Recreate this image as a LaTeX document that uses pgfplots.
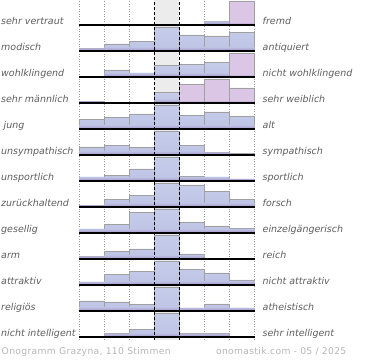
\documentclass[border=0pt]{standalone}
\usepackage{pgfplots}
\pgfplotsset{compat=1.18}
\usepackage{pgfplotstable}
\usepackage{fontspec}
\setmainfont{DejaVu Sans}[ItalicFont={DejaVu Sans Oblique}]
\newfontfamily\footfont{DejaVu Sans}[LetterSpace=3.5]
\definecolor{lbl}{HTML}{5E5E5E}
\definecolor{foot}{HTML}{B6B6B6}
\definecolor{band}{HTML}{ECECEC}
\definecolor{bt}{HTML}{C6CDEA}
\definecolor{bm}{HTML}{BEC3E5}
\definecolor{bb}{HTML}{A292C4}
\definecolor{pt}{HTML}{DCC6E6}
\definecolor{edge}{HTML}{A0A0A0}
\pgfdeclareverticalshading{pinkshade}{100bp}{color(0bp)=(bb); color(25bp)=(bb); color(31bp)=(pt); color(75bp)=(pt); color(100bp)=(pt)}

\pgfplotstableread{
x r1 r2 r3 r4 r5 r6 r7 r8 r9 r10 r11 r12 r13
0.5 0 2.7 0 1.7 9.3 8 4 1.5 4 2.7 3 10 0
1.5 0 7 7 0 11.7 9.7 5.3 7.3 8.7 7.3 10.7 9 3.3
2.5 0 9.7 4 0 15 7.7 12 11.7 20.7 10 13.3 6.7 7.7
3.5 0 24 11.3 10.7 24 24 24 24 24 24 24 24 24
4.5 0 16 12.3 0 13.7 9.7 4.7 22 10.7 5 15.3 3 3.3
5.5 3.7 15 14.3 0 17 2.7 4 15.6 7 0 12 7 3.3
6.5 0 18.7 0 0 12.7 1.3 2 7.3 4.7 0 5 3 1
}\bars
\pgfplotstableread{
x r1 r3 r4
4.5 0 0 18.4
5.5 0 0 24
6.5 24 24 15
}\pinkbars

\pgfplotsset{
 rowax/.style={anchor=south west, scale only axis, width=175.2bp, height=24bp,
   xmin=0, xmax=7, ymin=0, ymax=24, hide axis, clip=false},
 barbase/.style={ybar, bar width=1, bar shift=0pt},
 bluebar/.style={barbase, top color=bt, bottom color=bm, draw=edge, line width=0.6bp},
 bandbar/.style={barbase, top color=bm, bottom color=bb, draw=none, y filter/.expression={min(y,4)}},
 pinkbar/.style={barbase, shade, shading=pinkshade, draw=edge, line width=0.6bp},
}
\newcommand\baseline{\draw[black, line width=1.6bp] (axis cs:0,0) -- (axis cs:7,0);}
\newcommand\rowax[2]{%
\begin{axis}[rowax, at={(79.3bp,#2bp)}]
\addplot[bluebar] table[x=x,y=#1]{\bars};
\addplot[bandbar] table[x=x,y=#1]{\bars};
\baseline
\end{axis}}
\newcommand\rowaxp[2]{%
\begin{axis}[rowax, at={(79.3bp,#2bp)}]
\addplot[bluebar] table[x=x,y=#1]{\bars};
\addplot[bandbar] table[x=x,y=#1]{\bars};
\addplot[pinkbar] table[x=x,y=#1]{\pinkbars};
\baseline
\end{axis}}

\begin{document}
\begin{tikzpicture}[x=1bp,y=1bp]
\useasboundingbox (0,0) rectangle (370,360);
% background band and dotted grid
\fill[band] (154.3,20) rectangle (179.3,360);
\foreach \xx in {79.3,104.3,129.3,204.3,229.3,254.5}
  \draw[gray!80, line width=0.6bp, dash pattern=on 1bp off 1.5bp] (\xx,20) -- (\xx,360);

\rowaxp{r1}{335}
\rowax{r2}{309}
\rowaxp{r3}{283}
\rowaxp{r4}{257}
\rowax{r5}{231}
\rowax{r6}{205}
\rowax{r7}{179}
\rowax{r8}{153}
\rowax{r9}{127}
\rowax{r10}{101}
\rowax{r11}{75}
\rowax{r12}{49}
\rowax{r13}{23}

\foreach \xx in {154.3,179.3}
  \draw[black, line width=0.9bp, dash pattern=on 3bp off 2bp] (\xx,20) -- (\xx,360);

\begin{scope}[every node/.style={inner sep=0pt, text=lbl, font=\fontsize{9.5bp}{11bp}\selectfont\itshape}]
\foreach \yy/\l/\r in {336/sehr vertraut/fremd, 310/modisch/antiquiert, 284/wohlklingend/nicht wohlklingend,
  258/sehr männlich/sehr weiblich, 232/{\hspace{2.5bp}jung}/alt, 206/unsympathisch/sympathisch,
  180/unsportlich/sportlich, 154/zurückhaltend/forsch, 128/gesellig/einzelgängerisch,
  102/arm/reich, 76/attraktiv/nicht attraktiv, 50/religiös/atheistisch, 24/nicht intelligent/sehr intelligent}
{
  \node[anchor=base west] at (1,\yy) {\l};
  \node[anchor=base west] at (262.5,\yy) {\r};
}
\end{scope}
\node[anchor=base west, inner sep=0pt, text=foot, font=\footfont\fontsize{9.2bp}{11bp}\selectfont] at (1.5,5.3) {Onogramm Grazyna, 110 Stimmen};
\node[anchor=base east, inner sep=0pt, text=foot, font=\footfont\fontsize{9.2bp}{11bp}\selectfont] at (346.5,5.3) {onomastik.com - 05 / 2025};
\end{tikzpicture}
\end{document}
